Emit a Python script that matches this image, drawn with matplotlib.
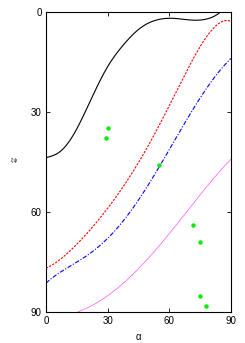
import numpy as np
import matplotlib
matplotlib.use("Agg")
import matplotlib.pyplot as plt

plt.rcParams['font.family'] = ['Liberation Sans', 'DejaVu Sans']

# curves (alpha, xi)
black_a = [0, 6.8, 13.3, 21.4, 29.5, 37.6, 45.7, 53.8, 61.9, 70, 78.2, 85.4, 88]
black_x = [43.7, 41.9, 36.9, 26.9, 16.9, 9.9, 4.9, 2.4, 1.9, 2.4, 2.1, -0.3, -2]

red_a = [0, 13.3, 21.4, 29.5, 37.6, 45.7, 53.8, 57, 61.9, 70, 78.2, 86.2, 90]
red_x = [76.9, 70.4, 65.9, 59.4, 51.9, 43.9, 35.9, 32.4, 25.9, 14.9, 7.4, 3.4, 2.4]

blue_a = [0, 13.3, 21.4, 29.5, 37.6, 45.7, 53.8, 61.9, 70, 78.2, 86.2, 90]
blue_x = [81.4, 75.4, 72.4, 68.9, 62.4, 55.4, 47.4, 39.9, 30.9, 22.4, 16.4, 14.0]

mag_a = [15.7, 29.5, 37.6, 45.7, 53.8, 60.3, 71.6, 80, 90]
mag_x = [89.9, 85.4, 81.4, 76.4, 70.9, 66.6, 57.4, 51.0, 44.2]

pts_a = [30, 29, 55, 71.7, 75, 75, 77.8]
pts_x = [34.9, 37.9, 45.9, 64, 69, 85.1, 88.1]


def spline(a, x, n=400):
    # natural cubic spline through the read points
    a = np.asarray(a, float)
    x = np.asarray(x, float)
    k = len(a)
    h = np.diff(a)
    A = np.zeros((k, k))
    b = np.zeros(k)
    A[0, 0] = A[-1, -1] = 1
    for i in range(1, k - 1):
        A[i, i - 1] = h[i - 1]
        A[i, i] = 2 * (h[i - 1] + h[i])
        A[i, i + 1] = h[i]
        b[i] = 6 * ((x[i + 1] - x[i]) / h[i] - (x[i] - x[i - 1]) / h[i - 1])
    M = np.linalg.solve(A, b)
    t = np.linspace(a[0], a[-1], n)
    j = np.clip(np.searchsorted(a, t) - 1, 0, k - 2)
    d = t - a[j]
    hj = h[j]
    y = (M[j] * (a[j + 1] - t) ** 3 / (6 * hj) + M[j + 1] * d ** 3 / (6 * hj)
         + (x[j] / hj - M[j] * hj / 6) * (a[j + 1] - t)
         + (x[j + 1] / hj - M[j + 1] * hj / 6) * d)
    return t, y


def fit(a, x, deg=5, n=400):
    # least squares smoothing of the read points
    t = np.linspace(a[0], a[-1], n)
    return t, np.polyval(np.polyfit(a, x, deg), t)


fig = plt.figure(figsize=(2.45, 3.43), dpi=100)
ax = fig.add_axes([46 / 245, 1 - 312 / 343, 185 / 245, 300 / 343])

ax.plot(*spline(black_a, black_x), color='black', lw=0.8)
ax.plot(*fit(red_a, red_x), color='red', lw=0.8, dashes=(2, 1.2))
ax.plot(*fit(blue_a, blue_x), color='blue', lw=0.8, dashes=(4, 1.5, 1, 1.5))
ax.plot(*fit(mag_a, mag_x, 4), color='magenta', lw=0.6, dashes=(0.8, 0.6))
ax.plot(pts_a, pts_x, 'o', color='#00ee00', ms=3.2, mec='none')

ax.set_xlim(0, 90)
ax.set_ylim(90, 0)
ax.set_xticks([0, 30, 60, 90])
ax.set_yticks([0, 30, 60, 90])
ax.tick_params(direction='in', top=True, right=True, labelsize=7, length=3, width=0.6, pad=3)
for s in ax.spines.values():
    s.set_linewidth(0.8)

ax.set_xlabel('α', fontsize=7, labelpad=4)
fig.text(14 / 245, 1 - 160 / 343, 'ξ,ψ', fontsize=3.5, ha='center', va='center')

fig.savefig('out.png', dpi=100)
